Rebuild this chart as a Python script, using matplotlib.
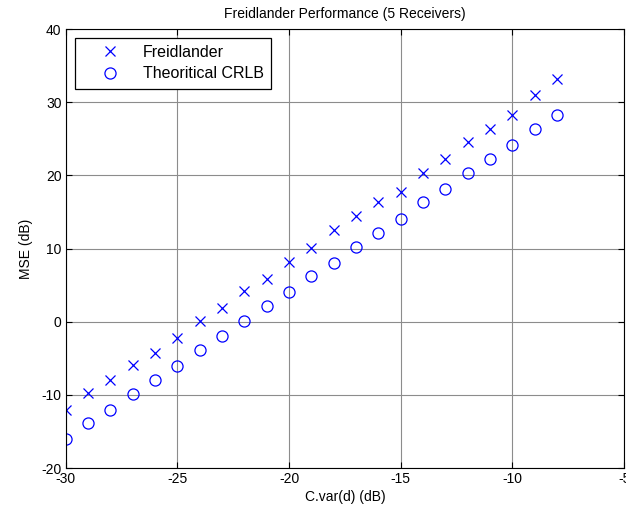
import numpy as np
import matplotlib.pyplot as plt

plt.rcParams['font.family'] = ['Liberation Sans', 'DejaVu Sans']
plt.rcParams['axes.unicode_minus'] = False

# data
cvar = np.arange(-30, -7, 1)
freid = [-12.1, -9.8, -8.0, -5.9, -4.2, -2.2, 0.1, 1.9, 4.2, 5.9, 8.2, 10.1,
         12.6, 14.4, 16.3, 17.8, 20.3, 22.3, 24.6, 26.3, 28.2, 31.0, 33.2]
crlb = [-16.0, -13.9, -12.0, -9.9, -7.9, -6.0, -3.9, -2.0, 0.1, 2.1, 4.1, 6.2,
        8.1, 10.2, 12.1, 14.1, 16.3, 18.1, 20.3, 22.2, 24.2, 26.3, 28.2]

fig = plt.figure(figsize=(6.26, 5.19), dpi=100)
ax = fig.add_axes([0.105, 0.098, 0.892, 0.846])

ax.plot(cvar, freid, 'x', color='blue', ms=6.5, mew=0.9, label='Freidlander')
ax.plot(cvar, crlb, 'o', color='blue', mfc='none', ms=8, mew=0.9, label='Theoritical CRLB')

ax.set_xlim(-30, -5)
ax.set_ylim(-20, 40)
ax.set_xticks(np.arange(-30, -4, 5))
ax.set_yticks(np.arange(-20, 41, 10))
ax.grid(True, color='#8c8c8c', linestyle='-', linewidth=0.8)
ax.tick_params(direction='in', top=True, right=True, labelsize=10, length=4, pad=3)
for s in ax.spines.values():
    s.set_linewidth(0.8)

ax.set_xlabel('C.var(d) (dB)', fontsize=10, labelpad=3)
ax.set_ylabel('MSE (dB)', fontsize=10, labelpad=6)
ax.set_title('Freidlander Performance (5 Receivers)', fontsize=10, pad=8)

leg = ax.legend(loc='upper left', prop={'size': 11.5}, fancybox=False, edgecolor='black',
                framealpha=1, borderaxespad=0.55, handletextpad=0.25, borderpad=0.45,
                labelspacing=0.4, handlelength=3.6)
leg.get_frame().set_linewidth(0.9)

fig.savefig('out.png', dpi=100)
